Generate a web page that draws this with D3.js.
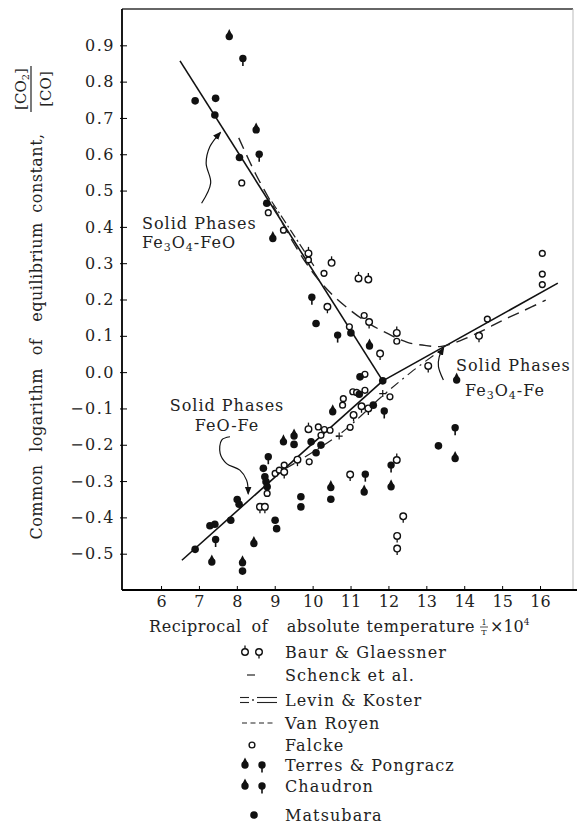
<!DOCTYPE html>
<html>
<head>
<meta charset="utf-8">
<script src="https://cdn.jsdelivr.net/npm/d3@7"></script>
<style>
body { margin: 0; background: #fff; }
svg { display: block; font-family: "DejaVu Serif", serif; }
</style>
</head>
<body>
<svg id="chart" width="577" height="824"></svg>
<script>
// ---------------------------//
//            DATA            //
// ---------------------------//
const X_TICKS = [6, 7, 8, 9, 10, 11, 12, 13, 14, 15, 16];
const Y_TICKS = [-0.5, -0.4, -0.3, -0.2, -0.1, 0.0, 0.1, 0.2, 0.3, 0.4, 0.5, 0.6, 0.7, 0.8, 0.9];

// Baur & Glaessner (open, stem up / stem down)
const baurUp = [[9.89,0.327],[10.50,0.301],[11.21,0.258],[11.47,0.255],[12.22,0.108],[9.89,-0.157],[12.22,-0.242]];
const baurDown = [[10.39,0.180],[11.49,0.138],[11.78,0.051],[14.39,0.100],[13.05,0.017],[10.99,-0.282],
    [12.39,-0.397],[12.23,-0.451],[12.23,-0.486],[9.60,-0.241],[11.08,-0.118],[11.29,-0.094],
    [11.47,-0.100],[8.61,-0.371],[8.74,-0.371],[9.25,-0.275]];
// Falcke (small open)
const falcke = [[8.13,0.521],[8.83,0.439],[9.23,0.391],[9.89,0.309],[10.30,0.272],[10.97,0.125],[11.36,0.156],
    [12.22,0.085],[11.38,-0.006],[16.06,0.327],[16.06,0.270],[16.06,0.241],[14.61,0.146],[9.91,-0.247],
    [10.22,-0.174],[10.31,-0.158],[10.46,-0.160],[10.99,-0.152],[10.79,-0.091],[10.81,-0.073],[11.06,-0.054],
    [11.16,-0.056],[11.38,-0.050],[12.04,-0.068],[8.80,-0.334],[9.01,-0.279],[9.12,-0.270],[9.25,-0.256],[10.15,-0.151]];
// Terres & Pongracz (filled, pointed top)
const terres = [[7.80,0.924],[8.51,0.667],[8.95,0.368],[11.50,0.072],[13.80,-0.022],[13.76,-0.238],[11.36,-0.330],
    [10.48,-0.318],[12.07,-0.316],[9.51,-0.176],[10.53,-0.109],[9.23,-0.192],[7.34,-0.523],[8.15,-0.525],[8.45,-0.472]];
// Chaudron (filled, tail below)
const chaudron = [[8.16,0.864],[8.59,0.600],[9.98,0.206],[10.66,0.102],[13.76,-0.153],[11.39,-0.281],[12.07,-0.256],
    [11.89,-0.107],[8.83,-0.233],[7.44,-0.461]];
// Matsubara (filled dot)
const matsubara = [[6.90,0.747],[7.44,0.754],[7.42,0.708],[8.07,0.591],[8.79,0.465],[10.09,0.134],[11.01,0.108],
    [11.25,-0.013],[11.85,-0.024],[13.32,-0.203],[10.48,-0.350],[9.69,-0.343],[9.69,-0.371],[9.51,-0.199],
    [9.96,-0.192],[10.09,-0.222],[10.22,-0.201],[11.23,-0.061],[11.60,-0.091],[6.90,-0.488],[8.15,-0.548],
    [7.29,-0.423],[7.42,-0.419],[7.84,-0.408],[8.01,-0.351],[8.06,-0.364],[8.70,-0.265],[8.74,-0.288],
    [8.77,-0.302],[8.80,-0.316],[9.01,-0.408],[9.05,-0.431]];
// Schenck et al. (crosses)
const schenck = [[10.70,-0.176],[11.85,-0.059]];

// equilibrium lines
const lineFe3O4FeO = [[6.5,0.857],[11.85,-0.024]];
const lineFeOFe = [[6.55,-0.518],[11.85,-0.024]];
const lineFe3O4Fe = [[11.85,-0.024],[16.47,0.245]];
const vanRoyen = [[8.05,0.645],[8.5,0.545],[9.0,0.45],[9.5,0.355],[10.0,0.275],[10.5,0.215],[11.0,0.17],
    [11.5,0.133],[12.0,0.105],[12.5,0.082],[13.0,0.073],[13.4,0.071],[13.9,0.087],[14.5,0.115],
    [15.0,0.142],[15.5,0.166],[16.15,0.198]];
const levinUpper = [[8.92,0.47],[10.05,0.29]];
const levinLower = [[9.3,-0.265],[10.7,-0.172],[11.85,-0.065],[12.6,0.0],[13.45,0.066]];

// annotation arrows
const arrowFe3O4FeO = [[7.07,0.465],[7.31,0.521],[7.19,0.575],[7.29,0.621],[7.56,0.659]];
const arrowFeOFe = [[7.82,-0.178],[7.60,-0.187],[7.56,-0.224],[7.73,-0.252],[8.08,-0.270],[8.26,-0.298],[8.30,-0.334]];
const arrowFe3O4Fe = [[13.45,-0.022],[13.32,0.015],[13.34,0.042],[13.45,0.066]];

// ---------------------------//
//       AXIS AND SCALE       //
// ---------------------------//
const svg = d3.select("#chart");

const x = d3.scaleLinear().domain([4.97, 16.87]).range([122, 573]);
const y = d3.scaleLinear().domain([-0.6, 1.0]).range([590, 9]);

const plot = svg.append("g");

// frame
plot.append("line").attr("x1", 122).attr("x2", 573).attr("y1", 9).attr("y2", 9)
    .attr("stroke", "#333").attr("stroke-width", 1.5);
plot.append("line").attr("x1", 573).attr("x2", 573).attr("y1", 9).attr("y2", 590)
    .attr("stroke", "#bbb").attr("stroke-width", 1);

const xAxis = plot.append("g")
    .attr("transform", "translate(0,590)")
    .call(d3.axisBottom(x).tickValues(X_TICKS).tickSize(-4).tickPadding(6).tickFormat(d3.format("d")));
xAxis.select(".domain").attr("stroke-width", 1.8).attr("d", "M122,0H577");
xAxis.selectAll("text").attr("font-size", 16).attr("font-family", "DejaVu Serif").attr("fill", "#222");

const yAxis = plot.append("g")
    .attr("transform", "translate(122,0)")
    .call(d3.axisLeft(y).tickValues(Y_TICKS).tickSize(-5).tickPadding(7)
        .tickFormat(d => d3.format(".1f")(d).replace("-", "\u2212")));
yAxis.select(".domain").attr("stroke-width", 1.8).attr("d", "M0,9V590");
yAxis.selectAll(".tick line").attr("x1", -2);
yAxis.selectAll("text").attr("font-size", 16).attr("font-family", "DejaVu Serif")
    .attr("letter-spacing", 1.5).attr("fill", "#222");

// ---------------------------//
//           LINES            //
// ---------------------------//
const straight = d3.line().x(d => x(d[0])).y(d => y(d[1]));
const smooth = d3.line().x(d => x(d[0])).y(d => y(d[1])).curve(d3.curveCatmullRom);

[lineFe3O4FeO, lineFeOFe, lineFe3O4Fe].forEach(l => {
    plot.append("path").attr("d", straight(l)).attr("fill", "none")
        .attr("stroke", "#111").attr("stroke-width", 1.6);
});

plot.append("path").attr("d", smooth(vanRoyen)).attr("fill", "none")
    .attr("stroke", "#222").attr("stroke-width", 1.4).attr("stroke-dasharray", "12,7");

plot.append("path").attr("d", straight(levinUpper)).attr("fill", "none")
    .attr("stroke", "#222").attr("stroke-width", 1.2).attr("stroke-dasharray", "9,3,2,3");
plot.append("path").attr("d", smooth(levinLower)).attr("fill", "none")
    .attr("stroke", "#222").attr("stroke-width", 1.2).attr("stroke-dasharray", "10,5,2,5");

// arrows
svg.append("defs").append("marker")
    .attr("id", "head").attr("viewBox", "0 0 10 10").attr("refX", 8).attr("refY", 5)
    .attr("markerWidth", 7).attr("markerHeight", 7).attr("orient", "auto")
    .append("path").attr("d", "M0,1L10,5L0,9Z").attr("fill", "#111");

[arrowFe3O4FeO, arrowFeOFe, arrowFe3O4Fe].forEach(a => {
    plot.append("path").attr("d", smooth(a)).attr("fill", "none")
        .attr("stroke", "#111").attr("stroke-width", 1.2).attr("marker-end", "url(#head)");
});

// ---------------------------//
//          MARKERS           //
// ---------------------------//
var drawSymbol = function(sel, kind)
{
    if (kind === "openUp" || kind === "openDown" || kind === "open")
    {
        let r = kind === "open" ? 2.9 : 3.3;
        if (kind === "openUp") sel.append("line").attr("y1", -r).attr("y2", -r - 3.2);
        if (kind === "openDown") sel.append("line").attr("y1", r).attr("y2", r + 3.2);
        sel.selectAll("line").attr("stroke", "#111").attr("stroke-width", 1.3);
        sel.append("circle").attr("r", r).attr("fill", "#fff").attr("stroke", "#111").attr("stroke-width", 1.4);
    }
    else if (kind === "fillUp")
    {
        sel.append("path").attr("d", "M-2.6,-2.2L0,-7.5L2.6,-2.2Z").attr("fill", "#111");
        sel.append("circle").attr("r", 3.7).attr("fill", "#111");
    }
    else if (kind === "fillDown")
    {
        sel.append("line").attr("y1", 2).attr("y2", 7.5).attr("stroke", "#111").attr("stroke-width", 1.6);
        sel.append("circle").attr("r", 3.7).attr("fill", "#111");
    }
    else if (kind === "dot")
    {
        sel.append("circle").attr("r", 3.8).attr("fill", "#111");
    }
    else if (kind === "cross")
    {
        sel.append("path").attr("d", "M-3.5,0H3.5M0,-3.5V3.5").attr("stroke", "#111").attr("stroke-width", 1.2);
    }
}

var drawSeries = function(data, kind)
{
    const g = plot.append("g").selectAll("g")
        .data(data).enter().append("g")
        .attr("transform", d => `translate(${x(d[0])},${y(d[1])})`);
    drawSymbol(g, kind);
}

drawSeries(schenck, "cross");
drawSeries(falcke, "open");
drawSeries(baurUp, "openUp");
drawSeries(baurDown, "openDown");
drawSeries(terres, "fillUp");
drawSeries(chaudron, "fillDown");
drawSeries(matsubara, "dot");

// ---------------------------//
//        ANNOTATIONS         //
// ---------------------------//
var label = function(px, py, parts, anchor)
{
    const t = svg.append("text").attr("x", px).attr("y", py)
        .attr("font-size", 16).attr("letter-spacing", 1).attr("fill", "#222")
        .attr("text-anchor", anchor || "start");
    parts.forEach(p => {
        const s = t.append("tspan").text(p[0]);
        if (p[1]) s.attr("font-size", 11).attr("baseline-shift", "-25%");
    });
}

label(142, 229, [["Solid Phases"]]);
label(142, 248, [["Fe"], ["3", 1], ["O"], ["4", 1], ["-FeO"]]);
label(227, 411, [["Solid Phases"]], "middle");
label(227, 431, [["FeO-Fe"]], "middle");
label(456, 371, [["Solid Phases"]]);
label(465, 396, [["Fe"], ["3", 1], ["O"], ["4", 1], ["-Fe"]]);

// y axis title
const yWords = [["Common", 502], ["logarithm", 410], ["of", 347], ["equilibrium", 272], ["constant,", 173]];
yWords.forEach(w => {
    svg.append("text").attr("transform", `translate(42,${w[1]}) rotate(-90)`)
        .attr("text-anchor", "middle").attr("font-size", 16).attr("letter-spacing", 0.5)
        .attr("fill", "#222").text(w[0]);
});
const frac = svg.append("g").attr("transform", "translate(0,89)");
frac.append("text").attr("transform", "translate(26,0) rotate(-90)").attr("text-anchor", "middle")
    .attr("font-size", 15).attr("fill", "#222")
    .html('[CO<tspan font-size="10" baseline-shift="-25%">2</tspan>]');
frac.append("line").attr("x1", 31).attr("x2", 31).attr("y1", -23).attr("y2", 23)
    .attr("stroke", "#222").attr("stroke-width", 1.2);
frac.append("text").attr("transform", "translate(51,0) rotate(-90)").attr("text-anchor", "middle")
    .attr("font-size", 15).attr("fill", "#222").text("[CO]");

// x axis title
const xWords = [["Reciprocal", 149, "start"], ["of", 260, "middle"], ["absolute", 323.5, "middle"], ["temperature", 475, "end"]];
xWords.forEach(w => {
    svg.append("text").attr("x", w[1]).attr("y", 632).attr("text-anchor", w[2])
        .attr("font-size", 16).attr("letter-spacing", 0.6).attr("fill", "#222").text(w[0]);
});
svg.append("text").attr("x", 484).attr("y", 625).attr("text-anchor", "middle")
    .attr("font-size", 8).attr("fill", "#222").text("1");
svg.append("line").attr("x1", 480).attr("x2", 488).attr("y1", 627).attr("y2", 627)
    .attr("stroke", "#222").attr("stroke-width", 0.8);
svg.append("text").attr("x", 484).attr("y", 635).attr("text-anchor", "middle")
    .attr("font-size", 8).attr("fill", "#222").text("T");
svg.append("text").attr("x", 490).attr("y", 632).attr("font-size", 16).attr("fill", "#222")
    .html('\u00d710<tspan font-size="9" dy="-7">4</tspan>');

// ---------------------------//
//           LEGEND           //
// ---------------------------//
const legendNames = ["Baur & Glaessner", "Schenck\u00a0et al.", "Levin & Koster", "Van Royen",
    "Falcke", "Terres & Pongracz", "Chaudron", "Matsubara"];
const legendRows = [652, 675, 700, 723, 745, 765, 786, 815];

const legend = svg.append("g");
legendNames.forEach((n, i) => {
    legend.append("text").attr("x", 285).attr("y", legendRows[i] + 6)
        .attr("font-size", 16).attr("letter-spacing", 1.1).attr("fill", "#222").text(n);
});
var sym = function(px, py, kind)
{
    drawSymbol(legend.append("g").attr("transform", `translate(${px},${py})`), kind);
}
sym(245, legendRows[0], "openUp");
sym(259, legendRows[0], "openDown");
legend.append("line").attr("x1", 247).attr("x2", 255).attr("y1", legendRows[1]).attr("y2", legendRows[1])
    .attr("stroke", "#222").attr("stroke-width", 1.2);
[-2.5, 2.5].forEach(o => {
    legend.append("line").attr("x1", 240).attr("x2", 249).attr("y1", legendRows[2] + o).attr("y2", legendRows[2] + o)
        .attr("stroke", "#222").attr("stroke-width", 1.1);
    legend.append("line").attr("x1", 257).attr("x2", 277).attr("y1", legendRows[2] + o).attr("y2", legendRows[2] + o)
        .attr("stroke", "#222").attr("stroke-width", 1.1);
});
legend.append("circle").attr("cx", 253).attr("cy", legendRows[2]).attr("r", 0.9).attr("fill", "#222");
legend.append("line").attr("x1", 242).attr("x2", 276).attr("y1", legendRows[3]).attr("y2", legendRows[3])
    .attr("stroke", "#222").attr("stroke-width", 1.1).attr("stroke-dasharray", "5,3.5");
sym(252, legendRows[4], "open");
sym(245, legendRows[5], "fillUp");
sym(262, legendRows[5], "fillDown");
sym(245, legendRows[6], "fillUp");
sym(262, legendRows[6], "fillDown");
sym(254, legendRows[7], "dot");
</script>
</body>
</html>
